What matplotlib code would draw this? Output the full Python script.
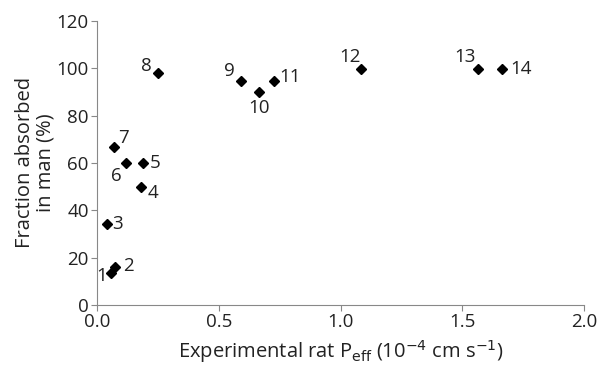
import matplotlib
matplotlib.use("Agg")
import matplotlib.pyplot as plt

labels = ["1", "2", "3", "4", "5", "6", "7", "8", "9", "10", "11", "12", "13", "14"]
peff = [0.058, 0.073, 0.040, 0.182, 0.190, 0.119, 0.071, 0.251, 0.590, 0.665, 0.727, 1.085, 1.564, 1.665]
fa = [13.4, 16.2, 34.1, 49.7, 60.0, 59.9, 66.9, 97.9, 94.8, 89.9, 94.8, 99.7, 99.7, 99.7]
label_offsets = [(-10, -3), (13, 1), (11, 0), (12, -6), (12, 0), (-10, -13), (9, 9),
                 (-12, 7), (-11, 10), (0, -16), (16, 4), (-11, 12), (-13, 12), (19, 0)]

plt.rcParams['font.family'] = ['Open Sans', 'DejaVu Sans']

fig = plt.figure(figsize=(6, 3.66), dpi=100)
ax = fig.add_axes([0.162, 0.167, 0.811, 0.776])
ax.plot(peff, fa, linestyle='none', marker='D', markersize=5.5, color='black')
for lab, x, y, (dx, dy) in zip(labels, peff, fa, label_offsets):
    ax.annotate(lab, (x, y), xytext=(dx, dy), textcoords='offset pixels',
                ha='center', va='center', fontsize=13.5, color='#222222')

ax.set_xlim(0, 2.0)
ax.set_ylim(0, 120)
ax.set_xticks([0, 0.5, 1.0, 1.5, 2.0])
ax.set_xticklabels(["0.0", "0.5", "1.0", "1.5", "2.0"])
ax.set_yticks([0, 20, 40, 60, 80, 100, 120])
for s in ['top', 'right']:
    ax.spines[s].set_visible(False)
for s in ['left', 'bottom']:
    ax.spines[s].set_color('#888888')
    ax.spines[s].set_linewidth(0.8)
ax.tick_params(axis='both', colors='#888888', labelcolor='#222222', labelsize=13.5, length=4, pad=2)
ax.set_xlabel(r"Experimental rat P$_{\mathrm{eff}}$ (10$^{-4}$ cm s$^{-1}$)", fontsize=14.5,
              color='#222222', labelpad=5)
ax.set_ylabel("Fraction absorbed\nin man (%)", fontsize=14.5, color='#222222', linespacing=1.0,
              labelpad=1)
fig.savefig("out.png", dpi=100)
